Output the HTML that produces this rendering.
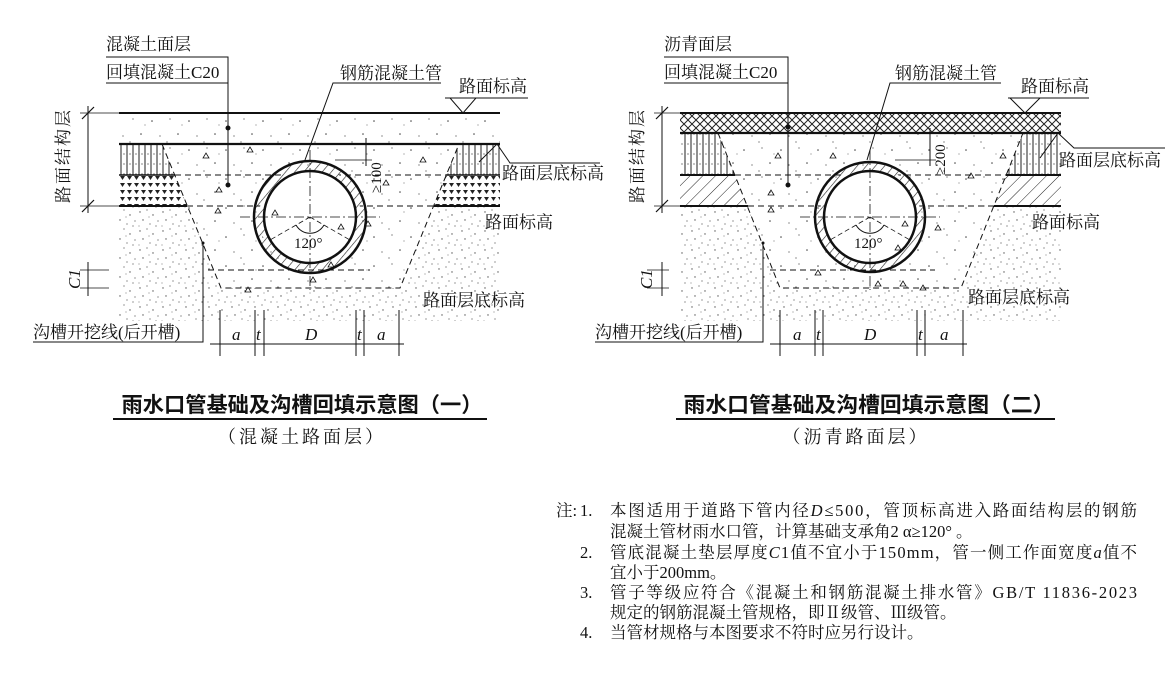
<!DOCTYPE html>
<html><head><meta charset="utf-8"><style>
html,body{margin:0;padding:0;background:#fff;width:1169px;height:675px;overflow:hidden}
svg{display:block}
.l{font-family:"Liberation Serif","Noto Serif CJK SC",serif;font-size:17px;fill:#111}
.t{font-family:"Liberation Sans","Noto Sans CJK SC",sans-serif;font-weight:bold;font-size:21px;fill:#111}
.s{font-family:"Liberation Serif","Noto Serif CJK SC",serif;font-size:18px;fill:#111;letter-spacing:3px}
.n{font-family:"Liberation Serif","Noto Serif CJK SC",serif;font-size:16.5px;fill:#111}
.i{font-family:"Liberation Serif",serif;font-style:italic;font-size:17px;fill:#111}
</style></head><body>
<svg width="1169" height="675" viewBox="0 0 1169 675" xmlns="http://www.w3.org/2000/svg">
<defs>
<pattern id="soil" width="23" height="19" patternUnits="userSpaceOnUse">
<g fill="#555"><circle cx="2" cy="3" r="0.7"/><circle cx="9" cy="1" r="0.6"/><circle cx="15" cy="6" r="0.7"/><circle cx="20" cy="12" r="0.6"/><circle cx="5" cy="11" r="0.7"/><circle cx="12" cy="15" r="0.6"/><circle cx="18" cy="17" r="0.6"/><circle cx="1" cy="17" r="0.5"/><circle cx="11" cy="8" r="0.5"/></g></pattern>
<pattern id="conc" width="37" height="29" patternUnits="userSpaceOnUse">
<g fill="#444"><circle cx="4" cy="5" r="0.8"/><circle cx="22" cy="3" r="0.6"/><circle cx="30" cy="18" r="0.8"/><circle cx="12" cy="20" r="0.6"/><circle cx="34" cy="9" r="0.5"/><circle cx="19" cy="26" r="0.6"/></g></pattern>
<pattern id="vh" width="6" height="10" patternUnits="userSpaceOnUse">
<line x1="1" y1="0" x2="1" y2="10" stroke="#222" stroke-width="1"/><circle cx="4" cy="4" r="0.6" fill="#333"/></pattern>
<pattern id="tri" width="7" height="7" patternUnits="userSpaceOnUse">
<path d="M1,1 L6,1 L3.5,5 Z" fill="#222"/></pattern>
<pattern id="xh" width="8" height="8" patternUnits="userSpaceOnUse">
<path d="M0,0 L8,8 M8,0 L0,8" stroke="#222" stroke-width="1"/></pattern>
<pattern id="dh" width="9" height="9" patternUnits="userSpaceOnUse" patternTransform="rotate(45)">
<line x1="0" y1="0" x2="0" y2="9" stroke="#222" stroke-width="1"/></pattern>
<pattern id="ring" width="7" height="7" patternUnits="userSpaceOnUse" patternTransform="rotate(40)">
<line x1="0" y1="0" x2="0" y2="7" stroke="#222" stroke-width="1.2"/></pattern>
</defs>

<!-- ============ LEFT DIAGRAM ============ -->
<g stroke="#111" fill="none">
<rect x="119" y="206" width="381" height="115" fill="url(#soil)" stroke="none"/>
<rect x="119" y="113" width="381" height="31" fill="url(#conc)" stroke="none"/>
<polygon points="119,144 162,144 175,175 119,175" fill="url(#vh)" stroke="none"/>
<polygon points="459,144 500,144 500,175 446,175" fill="url(#vh)" stroke="none"/>
<polygon points="119,175 175,175 187,206 119,206" fill="url(#tri)" stroke="none"/>
<polygon points="446,175 500,175 500,206 434,206" fill="url(#tri)" stroke="none"/>
<polygon points="162,144 221,288 400,288 459,144" fill="#fff" stroke="none"/>
<polygon points="162,144 221,288 400,288 459,144" fill="url(#conc)" stroke="none"/>
<line x1="119" y1="113" x2="500" y2="113" stroke-width="2"/>
<line x1="119" y1="144" x2="500" y2="144" stroke-width="2.2"/>
<line x1="119" y1="175" x2="500" y2="175" stroke-width="1.5"/>
<line x1="175" y1="175" x2="446" y2="175" stroke="#fff" stroke-width="2"/>
<line x1="175" y1="175" x2="446" y2="175" stroke-dasharray="6,4" stroke-width="1"/>
<line x1="119" y1="206" x2="187" y2="206" stroke-width="2"/>
<line x1="434" y1="206" x2="500" y2="206" stroke-width="2"/>
<line x1="187" y1="206" x2="434" y2="206" stroke-dasharray="6,4" stroke-width="1"/>
<polyline points="162,144 221,288 400,288 459,144" stroke-dasharray="6,4" stroke-width="1"/>
<line x1="208" y1="270" x2="370" y2="270" stroke-dasharray="6,4" stroke-width="1"/>
<circle cx="310" cy="217" r="51" stroke="url(#ring)" stroke-width="10" fill="#fff"/>
<circle cx="310" cy="217" r="56" stroke-width="2.5"/>
<circle cx="310" cy="217" r="46" stroke-width="2.5"/>
<line x1="310" y1="150" x2="310" y2="290" stroke-dasharray="10,3,2,3" stroke-width="0.8"/>
<line x1="240" y1="217" x2="380" y2="217" stroke-dasharray="10,3,2,3" stroke-width="0.8"/>
<line x1="310" y1="217" x2="270" y2="240" stroke-dasharray="5,3" stroke-width="0.8"/>
<line x1="310" y1="217" x2="350" y2="240" stroke-dasharray="5,3" stroke-width="0.8"/>
<path d="M296,225 A16,16 0 0 0 324,225" stroke-width="1"/>
<line x1="88" y1="106" x2="88" y2="213" stroke-width="1"/>
<line x1="80" y1="113" x2="119" y2="113" stroke-width="0.8"/>
<line x1="80" y1="206" x2="119" y2="206" stroke-width="0.8"/>
<line x1="82" y1="119" x2="94" y2="107" stroke-width="1.2"/>
<line x1="82" y1="212" x2="94" y2="200" stroke-width="1.2"/>
<line x1="88" y1="262" x2="88" y2="296" stroke-width="1"/>
<line x1="80" y1="270" x2="109" y2="270" stroke-width="0.8"/>
<line x1="80" y1="288" x2="109" y2="288" stroke-width="0.8"/>
<g stroke-width="1"><line x1="210" y1="344" x2="404" y2="344"/>
<line x1="220" y1="310" x2="220" y2="356"/><line x1="255" y1="310" x2="255" y2="356"/><line x1="264" y1="310" x2="264" y2="356"/>
<line x1="356" y1="310" x2="356" y2="356"/><line x1="364" y1="310" x2="364" y2="356"/><line x1="399" y1="310" x2="399" y2="356"/></g>
<line x1="366" y1="138" x2="366" y2="166" stroke-width="1"/>
<line x1="335" y1="160" x2="372" y2="160" stroke-width="0.8"/>
<polyline points="106,57 228,57 228,185" stroke-width="1"/>
<line x1="106" y1="83" x2="228" y2="83" stroke-width="1"/>
<polyline points="441,83 333,83 305,160" stroke-width="1"/>
<polyline points="445,98 528,98" stroke-width="1"/>
<polygon points="450,98 476,98 463,113" stroke-width="1"/>
<polyline points="479,162 497,144 510,163 600,163" stroke-width="1"/>
<polyline points="33,342 203,342 203,243" stroke-width="1"/>
</g>
<g fill="#111"><circle cx="228" cy="128" r="2.5"/><circle cx="228" cy="185" r="2.5"/><circle cx="203" cy="243" r="1.5"/>
<path d="M216,192 l6,0 l-3,-5z M203,158 l6,0 l-3,-5z M215,213 l6,0 l-3,-5z M247,152 l6,0 l-3,-5z M328,267 l6,0 l-3,-5z M338,229 l6,0 l-3,-5z M365,226 l6,0 l-3,-5z M245,292 l6,0 l-3,-5z M310,282 l6,0 l-3,-5z M420,162 l6,0 l-3,-5z M383,185 l6,0 l-3,-5z M272,215 l6,0 l-3,-5z" fill="none" stroke="#111" stroke-width="0.8"/></g>
<g class="l">
<text x="106" y="50">混凝土面层</text>
<text x="106" y="78">回填混凝土C20</text>
<text x="340" y="79">钢筋混凝土管</text>
<text x="459" y="92">路面标高</text>
<text x="502" y="179">路面层底标高</text>
<text x="485" y="228">路面标高</text>
<text x="423" y="306">路面层底标高</text>
<text x="33" y="338">沟槽开挖线(后开槽)</text>
<text x="294" y="248" font-size="15">120°</text>
<text x="0" y="0" transform="translate(69,203) rotate(-90)" letter-spacing="2">路面结构层</text>
<text x="0" y="0" transform="translate(381,193) rotate(-90)" font-size="15">≥100</text>
</g>
<g class="i"><text x="0" y="0" transform="translate(80,289) rotate(-90)">C1</text>
<text x="232" y="340">a</text><text x="256" y="340">t</text><text x="305" y="340">D</text><text x="357" y="340">t</text><text x="377" y="340">a</text></g>

<!-- ============ RIGHT DIAGRAM ============ -->
<g stroke="#111" fill="none">
<rect x="680" y="206" width="381" height="115" fill="url(#soil)" stroke="none"/>
<rect x="680" y="113" width="381" height="20" fill="url(#xh)" stroke="none"/>
<polygon points="680,133 718,133 735,175 680,175" fill="url(#vh)" stroke="none"/>
<polygon points="1023,133 1061,133 1061,175 1006,175" fill="url(#vh)" stroke="none"/>
<polygon points="680,175 735,175 748,206 680,206" fill="url(#dh)" stroke="none"/>
<polygon points="1006,175 1061,175 1061,206 994,206" fill="url(#dh)" stroke="none"/>
<polygon points="718,133 780,288 961,288 1023,133" fill="#fff" stroke="none"/>
<polygon points="718,133 780,288 961,288 1023,133" fill="url(#conc)" stroke="none"/>
<line x1="680" y1="113" x2="1061" y2="113" stroke-width="2"/>
<line x1="680" y1="133" x2="1061" y2="133" stroke-width="2.2"/>
<line x1="680" y1="175" x2="735" y2="175" stroke-width="2"/>
<line x1="1006" y1="175" x2="1061" y2="175" stroke-width="2"/>
<line x1="735" y1="175" x2="1006" y2="175" stroke-dasharray="6,4" stroke-width="1"/>
<line x1="680" y1="206" x2="748" y2="206" stroke-width="2"/>
<line x1="994" y1="206" x2="1061" y2="206" stroke-width="2"/>
<line x1="748" y1="206" x2="994" y2="206" stroke-dasharray="6,4" stroke-width="1"/>
<polyline points="718,133 780,288 961,288 1023,133" stroke-dasharray="6,4" stroke-width="1"/>
<line x1="770" y1="270" x2="935" y2="270" stroke-dasharray="6,4" stroke-width="1"/>
<circle cx="870" cy="217" r="50.5" stroke="url(#ring)" stroke-width="9" fill="#fff"/>
<circle cx="870" cy="217" r="55" stroke-width="2.5"/>
<circle cx="870" cy="217" r="46" stroke-width="2.5"/>
<line x1="870" y1="150" x2="870" y2="290" stroke-dasharray="10,3,2,3" stroke-width="0.8"/>
<line x1="800" y1="217" x2="940" y2="217" stroke-dasharray="10,3,2,3" stroke-width="0.8"/>
<line x1="870" y1="217" x2="830" y2="240" stroke-dasharray="5,3" stroke-width="0.8"/>
<line x1="870" y1="217" x2="910" y2="240" stroke-dasharray="5,3" stroke-width="0.8"/>
<path d="M856,225 A16,16 0 0 0 884,225" stroke-width="1"/>
<line x1="662" y1="106" x2="662" y2="213" stroke-width="1"/>
<line x1="654" y1="113" x2="680" y2="113" stroke-width="0.8"/>
<line x1="654" y1="206" x2="680" y2="206" stroke-width="0.8"/>
<line x1="656" y1="119" x2="668" y2="107" stroke-width="1.2"/>
<line x1="656" y1="212" x2="668" y2="200" stroke-width="1.2"/>
<line x1="662" y1="262" x2="662" y2="296" stroke-width="1"/>
<line x1="647" y1="270" x2="669" y2="270" stroke-width="0.8"/>
<line x1="647" y1="288" x2="669" y2="288" stroke-width="0.8"/>
<g stroke-width="1"><line x1="770" y1="344" x2="967" y2="344"/>
<line x1="780" y1="310" x2="780" y2="356"/><line x1="815" y1="310" x2="815" y2="356"/><line x1="823" y1="310" x2="823" y2="356"/>
<line x1="917" y1="310" x2="917" y2="356"/><line x1="925" y1="310" x2="925" y2="356"/><line x1="963" y1="310" x2="963" y2="356"/></g>
<line x1="930" y1="128" x2="930" y2="166" stroke-width="1"/>
<line x1="895" y1="160" x2="936" y2="160" stroke-width="0.8"/>
<polyline points="664,57 788,57 788,185" stroke-width="1"/>
<line x1="664" y1="83" x2="788" y2="83" stroke-width="1"/>
<polyline points="1001,83 890,83 867,160" stroke-width="1"/>
<polyline points="1008,98 1089,98" stroke-width="1"/>
<polygon points="1010,98 1040,98 1025,113" stroke-width="1"/>
<polyline points="1040,158 1058,133 1074,148 1165,148" stroke-width="1"/>
<polyline points="595,342 763,342 763,243" stroke-width="1"/>
</g>
<g fill="#111"><circle cx="788" cy="127" r="2.5"/><circle cx="788" cy="185" r="2.5"/><circle cx="763" cy="243" r="1.5"/>
<path d="M775,158 l6,0 l-3,-5z M830,158 l6,0 l-3,-5z M768,195 l6,0 l-3,-5z M768,212 l6,0 l-3,-5z M902,226 l6,0 l-3,-5z M935,230 l6,0 l-3,-5z M895,250 l6,0 l-3,-5z M815,275 l6,0 l-3,-5z M875,286 l6,0 l-3,-5z M900,286 l6,0 l-3,-5z M920,290 l6,0 l-3,-5z M968,178 l6,0 l-3,-5z M1000,158 l6,0 l-3,-5z" fill="none" stroke="#111" stroke-width="0.8"/></g>
<g class="l">
<text x="664" y="50">沥青面层</text>
<text x="664" y="78">回填混凝土C20</text>
<text x="895" y="79">钢筋混凝土管</text>
<text x="1021" y="92">路面标高</text>
<text x="1059" y="166">路面层底标高</text>
<text x="1032" y="228">路面标高</text>
<text x="968" y="303">路面层底标高</text>
<text x="595" y="338">沟槽开挖线(后开槽)</text>
<text x="854" y="248" font-size="15">120°</text>
<text x="0" y="0" transform="translate(643,203) rotate(-90)" letter-spacing="2">路面结构层</text>
<text x="0" y="0" transform="translate(945,175) rotate(-90)" font-size="15">≥200</text>
</g>
<g class="i"><text x="0" y="0" transform="translate(652,289) rotate(-90)">C1</text>
<text x="793" y="340">a</text><text x="816" y="340">t</text><text x="864" y="340">D</text><text x="918" y="340">t</text><text x="940" y="340">a</text></g>

<text class="t" x="302" y="412" text-anchor="middle" textLength="361" lengthAdjust="spacingAndGlyphs">雨水口管基础及沟槽回填示意图（一）</text>
<line x1="113" y1="419" x2="487" y2="419" stroke="#111" stroke-width="2"/>
<text class="s" x="302" y="443" text-anchor="middle">（混凝土路面层）</text>
<text class="t" x="869" y="412" text-anchor="middle" textLength="371" lengthAdjust="spacingAndGlyphs">雨水口管基础及沟槽回填示意图（二）</text>
<line x1="676" y1="419" x2="1055" y2="419" stroke="#111" stroke-width="2"/>
<text class="s" x="856" y="443" text-anchor="middle">（沥青路面层）</text>

<g class="n">
<text x="556" y="516">注:</text>
<text x="580" y="516">1.</text>
<text x="610" y="516" textLength="527">本图适用于道路下管内径<tspan font-style="italic">D</tspan>≤500，管顶标高进入路面结构层的钢筋</text>
<text x="610" y="537">混凝土管材雨水口管，计算基础支承角2 α≥120° 。</text>
<text x="580" y="558">2.</text>
<text x="610" y="558" textLength="527">管底混凝土垫层厚度<tspan font-style="italic">C</tspan>1值不宜小于150mm，管一侧工作面宽度<tspan font-style="italic">a</tspan>值不</text>
<text x="610" y="578">宜小于200mm。</text>
<text x="580" y="598">3.</text>
<text x="610" y="598" textLength="527">管子等级应符合《混凝土和钢筋混凝土排水管》GB/T 11836-2023</text>
<text x="610" y="618">规定的钢筋混凝土管规格，即Ⅱ级管、Ⅲ级管。</text>
<text x="580" y="638">4.</text>
<text x="610" y="638">当管材规格与本图要求不符时应另行设计。</text>
</g>
</svg>
</body></html>
